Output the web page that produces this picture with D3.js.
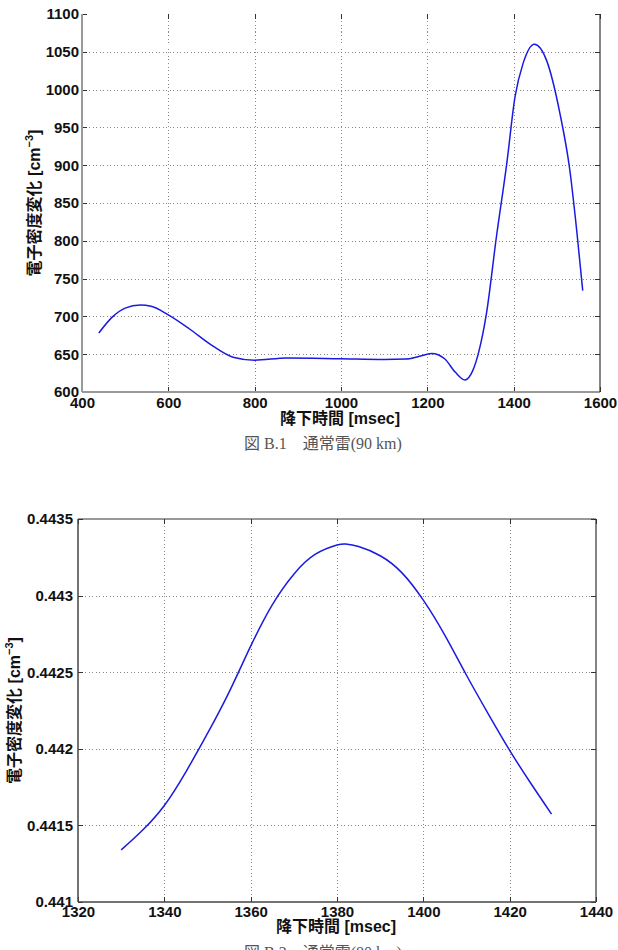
<!DOCTYPE html>
<html>
  <head>
    <meta charset="utf-8">
    <title>B.1 / B.2</title>
    <script type="text/javascript" src="https://cdn.jsdelivr.net/npm/d3@7"></script>
    <style type="text/css">
      body { margin: 0; background: #fff; }
      .axis path { display: none; }
      .axis line { stroke: #333; shape-rendering: crispEdges; }
      .axis text {
        font-family: "Liberation Sans", Arial, sans-serif;
        font-size: 15px;
        font-weight: bold;
        fill: #111;
      }
      .grid line { stroke: #888; stroke-dasharray: 1,2.5; shape-rendering: crispEdges; }
      .lbl {
        font-family: "Liberation Sans", "Noto Sans CJK JP", sans-serif;
        font-size: 16px;
        font-weight: bold;
        fill: #111;
      }
      .cap {
        font-family: "Liberation Serif", "Noto Sans CJK JP", serif;
        font-size: 16px;
        fill: #555;
      }
    </style>
  </head>
  <body>
    <script type="text/javascript">
      var w = 618;
      var h = 950;

      // 図 B.1 通常雷(90 km)
      var topTime    = [439, 470, 500, 535, 560, 600, 650, 700, 750, 800, 874, 998, 1100, 1150, 1180, 1210, 1240, 1265, 1287, 1305, 1320, 1337, 1360, 1384, 1403, 1422, 1448, 1476, 1507, 1530, 1546, 1560];
      var topDensity = [678, 699, 711, 715, 713.5, 702, 683, 662, 646, 642, 645, 644, 643, 643.5, 647, 651, 644, 626, 616, 628, 655, 704, 805, 902, 990, 1035, 1060, 1039, 969, 894, 814, 734];
      var topXTicks  = [400, 600, 800, 1000, 1200, 1400, 1600];
      var topYTicks  = [600, 650, 700, 750, 800, 850, 900, 950, 1000, 1050, 1100];

      // 図 B.2
      var botTime    = [1330, 1335, 1340, 1345, 1350, 1355, 1360, 1365, 1370, 1375, 1380, 1382, 1385, 1390, 1395, 1400, 1405, 1410, 1415, 1420, 1425, 1429.7];
      var botDensity = [0.44134, 0.44147, 0.44163, 0.44185, 0.4421, 0.44237, 0.44267, 0.44294, 0.44314, 0.44327, 0.44333, 0.443337, 0.44332, 0.44326, 0.44315, 0.44297, 0.44274, 0.44248, 0.44223, 0.44199, 0.44177, 0.441574];
      var botXTicks  = [1320, 1340, 1360, 1380, 1400, 1420, 1440];
      var botYTicks  = [0.441, 0.4415, 0.442, 0.4425, 0.443, 0.4435];

      var svg = d3.select("body")
                  .append("svg")
                  .attr("width", w)
                  .attr("height", h);

      function drawPanel(o) {
        var xScale = d3.scaleLinear().domain(o.xDomain).range([o.left, o.right]);
        var yScale = d3.scaleLinear().domain(o.yDomain).range([o.bottom, o.top]);
        var g = svg.append("g");

        // 点線グリッド
        var grid = g.append("g").attr("class", "grid");
        grid.selectAll(".gx")
            .data(o.xTicks.slice(1, -1))
            .enter().append("line")
            .attr("x1", function(d) { return Math.round(xScale(d)) + 0.5; })
            .attr("x2", function(d) { return Math.round(xScale(d)) + 0.5; })
            .attr("y1", o.top).attr("y2", o.bottom);
        grid.selectAll(".gy")
            .data(o.yTicks.slice(1, -1))
            .enter().append("line")
            .attr("y1", function(d) { return Math.round(yScale(d)) + 0.5; })
            .attr("y2", function(d) { return Math.round(yScale(d)) + 0.5; })
            .attr("x1", o.left).attr("x2", o.right);

        // 軸（目盛りは内向き）
        var xAxis = d3.axisBottom(xScale).tickValues(o.xTicks).tickSizeInner(-5).tickSizeOuter(0)
                      .tickPadding(o.xPad).tickFormat(d3.format("d"));
        var yAxis = d3.axisLeft(yScale).tickValues(o.yTicks).tickSizeInner(-5).tickSizeOuter(0)
                      .tickPadding(o.yPad).tickFormat(o.yFormat);
        g.append("g").attr("class", "axis")
         .attr("transform", "translate(0," + o.bottom + ")").call(xAxis);
        g.append("g").attr("class", "axis")
         .attr("transform", "translate(" + o.left + ",0)").call(yAxis);
        g.append("g").attr("class", "axis")
         .attr("transform", "translate(0," + o.top + ")")
         .call(d3.axisTop(xScale).tickValues(o.xTicks).tickSizeInner(-5).tickSizeOuter(0).tickFormat(""));
        g.append("g").attr("class", "axis")
         .attr("transform", "translate(" + o.right + ",0)")
         .call(d3.axisRight(yScale).tickValues(o.yTicks).tickSizeInner(-5).tickSizeOuter(0).tickFormat(""));

        // 枠
        g.append("line").attr("x1", o.left).attr("x2", o.left).attr("y1", o.top).attr("y2", o.bottom)
         .attr("stroke", o.frameColor).attr("stroke-width", o.frameWidth);
        g.append("line").attr("x1", o.left).attr("x2", o.right).attr("y1", o.bottom).attr("y2", o.bottom)
         .attr("stroke", o.frameColor).attr("stroke-width", o.frameWidth);
        g.append("line").attr("x1", o.right).attr("x2", o.right).attr("y1", o.top).attr("y2", o.bottom)
         .attr("stroke", "#333").attr("stroke-width", 1.2);
        if (o.topFrame) {
          g.append("line").attr("x1", o.left).attr("x2", o.right).attr("y1", o.top).attr("y2", o.top)
           .attr("stroke", "#333").attr("stroke-width", 1.2);
        }

        // 曲線
        var line = d3.line()
                     .x(function(d, i) { return xScale(o.xs[i]); })
                     .y(function(d) { return yScale(d); })
                     .curve(o.curve);
        g.append("path")
         .datum(o.ys)
         .attr("d", line)
         .attr("fill", "none")
         .attr("stroke", "#1a1ae0")
         .attr("stroke-width", 1.5);

        // ラベル
        var yl = g.append("text").attr("class", "lbl")
                  .attr("transform", "translate(" + o.yLabelX + "," + ((o.top + o.bottom) / 2) + ") rotate(-90)")
                  .attr("text-anchor", "middle");
        yl.append("tspan").text("電子密度変化 [cm");
        yl.append("tspan").attr("dy", -7).attr("font-size", 11).text("−3");
        yl.append("tspan").attr("dy", 7).text("]");

        g.append("text").attr("class", "lbl")
         .attr("x", (o.left + o.right) / 2 - 1).attr("y", o.xLabelY)
         .attr("text-anchor", "middle")
         .text("降下時間 [msec]");

        g.append("text").attr("class", "cap")
         .attr("x", o.capX).attr("y", o.capY)
         .attr("text-anchor", "middle")
         .text(o.caption);
      }

      drawPanel({
        xs: topTime, ys: topDensity, curve: d3.curveMonotoneX,
        xDomain: [400, 1600], yDomain: [600, 1100],
        xTicks: topXTicks, yTicks: topYTicks,
        left: 82, right: 600, top: 14, bottom: 392,
        xPad: 5, yPad: 3, yFormat: d3.format("d"),
        frameColor: "#999", frameWidth: 2, topFrame: false,
        yLabelX: 40, xLabelY: 424,
        caption: "図 B.1　通常雷(90 km)", capX: 323, capY: 449
      });

      drawPanel({
        xs: botTime, ys: botDensity, curve: d3.curveNatural,
        xDomain: [1320, 1440], yDomain: [0.441, 0.4435],
        xTicks: botXTicks, yTicks: botYTicks,
        left: 78, right: 596, top: 519, bottom: 902,
        xPad: 4, yPad: 5, yFormat: function(d) { return String(+d.toFixed(4)); },
        frameColor: "#444", frameWidth: 1.5, topFrame: true,
        yLabelX: 20, xLabelY: 932,
        caption: "図 B.2　通常雷(80 km)", capX: 323, capY: 958
      });
    </script>
  </body>
</html>
